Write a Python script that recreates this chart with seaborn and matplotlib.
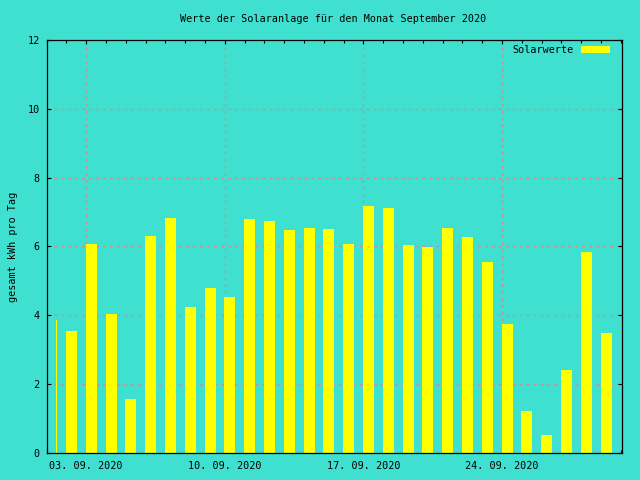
import matplotlib
matplotlib.use("Agg")
import matplotlib.pyplot as plt
import matplotlib.patches as mpatches
from matplotlib.ticker import FixedLocator, MultipleLocator
import seaborn as sns

# Daten: Tagesertrag der Solaranlage im September 2020
tage = list(range(1, 30))
werte = [3.86, 3.54, 6.08, 4.03, 1.57, 6.31, 6.82, 4.24, 4.79, 4.53,
         6.79, 6.73, 6.47, 6.53, 6.50, 6.07, 7.17, 7.11, 6.04, 5.98,
         6.53, 6.27, 5.54, 3.75, 1.22, 0.52, 2.41, 5.83, 3.48]
tick_tage = [3, 10, 17, 24]
tick_labels = ["03. 09. 2020", "10. 09. 2020", "17. 09. 2020", "24. 09. 2020"]

titel = "Werte der Solaranlage für den Monat September 2020"
y_label = "gesamt kWh pro Tag"
legende = "Solarwerte"

hintergrund = "#40e0d0"
gelb = "#ffff00"
gitter = "#c89090"

sns.set_style("ticks", {"axes.facecolor": hintergrund, "figure.facecolor": hintergrund,
                        "text.color": "black", "axes.labelcolor": "black",
                        "xtick.color": "black", "ytick.color": "black"})
plt.rcParams["font.family"] = ["DejaVu Sans Mono", "DejaVu Sans"]
plt.rcParams["font.size"] = 7.3

fig = plt.figure(figsize=(6.4, 4.8), dpi=100)
ax = fig.add_axes([46.5 / 640, 27 / 480, 575.2 / 640, 413 / 480])

# Balken liegen etwas rechts vom Datum (Zeitstempel)
x_pos = [t + 0.26 for t in tage]
sns.barplot(x=x_pos, y=werte, native_scale=True, width=0.56, color=gelb,
            saturation=1, linewidth=0, errorbar=None, ax=ax, zorder=3)

# erster Balken ist am linken Rand abgeschnitten -> nur schmaler Strich
p0 = ax.patches[0]
rechts = p0.get_x() + p0.get_width()
p0.set_x(rechts - 0.06)
p0.set_width(0.05)

ax.set_xlim(1.0, 30.05)
ax.set_ylim(0, 12)

ax.xaxis.set_major_locator(FixedLocator(tick_tage))
ax.set_xticklabels(tick_labels)
ax.xaxis.set_minor_locator(MultipleLocator(1))
ax.yaxis.set_major_locator(MultipleLocator(2))

ax.tick_params(axis="both", which="both", direction="in", top=True, right=True,
               color="black", labelcolor="black", width=0.8)
ax.tick_params(axis="both", which="major", length=3.2)
ax.tick_params(axis="both", which="minor", length=2.0)
ax.tick_params(axis="x", which="major", pad=6)
ax.tick_params(axis="y", which="major", pad=5)

for s in ax.spines.values():
    s.set_visible(True)
    s.set_color("black")
    s.set_linewidth(0.9)
    s.set_zorder(5)

ax.grid(True, which="major", color=gitter, linestyle=(0, (2, 3)), linewidth=1.0, zorder=1)
ax.set_axisbelow(True)

ax.set_xlabel("")
ax.set_ylabel(y_label, color="black")
ax.yaxis.set_label_coords(-0.05, 0.5)

fig.text(333 / 640, 1 - 19 / 480, titel, ha="center", va="center", color="black")

handle = mpatches.Patch(facecolor=gelb, edgecolor="none")
ax.legend([handle], [legende], loc="upper right", bbox_to_anchor=(0.9797, 0.988),
          frameon=False, markerfirst=False, borderpad=0, borderaxespad=0,
          handlelength=2.9, handleheight=0.7, handletextpad=0.7,
          labelcolor="black")

fig.savefig("out.png", dpi=100, facecolor=hintergrund)
